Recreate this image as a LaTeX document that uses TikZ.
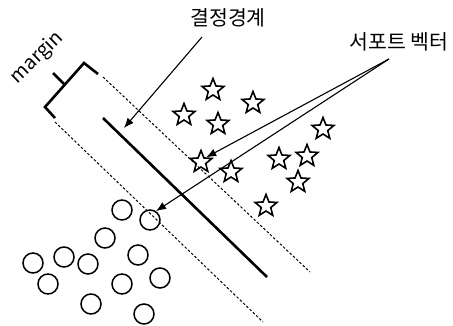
\documentclass[tikz,border=0pt]{standalone}
\usepackage{fontspec}
\setmainfont{Noto Sans CJK KR}
\usetikzlibrary{shapes.geometric,arrows.meta}

\begin{document}
\begin{tikzpicture}[x=1pt, y=-1pt,
        estrella/.style={star, star points=5, star point ratio=2.3, draw=black, line width=1.6pt, minimum size=23pt, inner sep=0pt},
        bola/.style={circle, draw=black, line width=1.5pt, minimum size=20pt, inner sep=0pt},
        etiqueta/.style={font=\fontsize{20.5}{24}\selectfont, inner sep=0pt},
        flecha/.style={line width=1.1pt, -{Latex[length=10pt,width=8pt]}},
        margen/.style={line width=1pt, dash pattern=on 2.5pt off 2pt}
    ]
        \useasboundingbox (0,0) rectangle (453,325);

        % Estrellas
        \node[estrella] (s1) at (213,90) {};
        \node[estrella] (s2) at (253,103) {};
        \node[estrella] (s3) at (184,115) {};
        \node[estrella] (s4) at (218,124) {};
        \node[estrella] (s5) at (323,129) {};
        \node[estrella] (s6) at (201,162) {};
        \node[estrella] (s7) at (231,172) {};
        \node[estrella] (s8) at (279,159) {};
        \node[estrella] (s9) at (307,156) {};
        \node[estrella] (s10) at (298,182) {};
        \node[estrella] (s11) at (266,206) {};

        % Circulos
        \node[bola] (c1) at (122,210) {};
        \node[bola] (c2) at (150,220) {};
        \node[bola] (c3) at (105,238) {};
        \node[bola] (c4) at (138,255) {};
        \node[bola] (c5) at (64,257) {};
        \node[bola] (c6) at (88,264) {};
        \node[bola] (c7) at (33,263) {};
        \node[bola] (c8) at (160,278) {};
        \node[bola] (c9) at (48,284) {};
        \node[bola] (c10) at (122,284) {};
        \node[bola] (c11) at (91,304) {};
        \node[bola] (c12) at (144,314) {};

        % Frontera y margenes
        \draw[line width=2.6pt] (103,118) -- (267,277);
        \draw[margen] (103,77) -- (310,272);
        \draw[margen] (55,122) -- (263,322);

        % Corchete del margen
        \draw[line width=2.6pt] (98,74) -- (84,63) -- (45,107) -- (55,118);
        \draw[line width=2.6pt] (64,84) -- (53,73);

        % Etiquetas
        \node[etiqueta] (limite) at (228,18) {결정경계};
        \node[etiqueta] (soporte) at (399,42) {서포트 벡터};
        \node[etiqueta, font=\fontsize{19.5}{23}\selectfont, rotate=44] (margin) at (37,58) {margin};

        % Flechas
        \coordinate (limite-pie) at (202,37);
        \coordinate (limite-punta) at (124,128);
        \draw[flecha] (limite-pie) -- (limite-punta);
        \coordinate (soporte-pie) at (389,59);
        \draw[flecha] (soporte-pie) -- (s6.42);
        \draw[flecha] (soporte-pie) -- (c2.56);
    \end{tikzpicture}
\end{document}
